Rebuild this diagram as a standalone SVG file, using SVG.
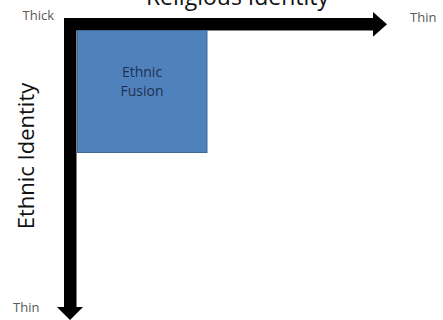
<svg xmlns="http://www.w3.org/2000/svg" width="443" height="320" viewBox="0 0 443 320">
<style>
.lbl{font-family:"Open Sans","Liberation Sans",sans-serif;fill:#595959;font-size:13px}
.axis{font-family:"Open Sans","Liberation Sans",sans-serif;fill:#111;font-size:23px}
.node{font-family:"Open Sans","Liberation Sans",sans-serif;fill:#1f3050;font-size:14px;text-anchor:middle}
</style>
<rect width="443" height="320" fill="#fff"/>
<g id="connectors">
<path d="M64,18 L373,18 L373,12 L387,24.3 L373,36.7 L373,30.5 L76.5,30.5 L76.5,307 L83,307 L70,320 L57,307 L64,307 Z" fill="#000"/>
</g>
<g id="ethnic-fusion">
<rect x="77.5" y="30.5" width="129.5" height="122" fill="#4f81bd" stroke="#41689a" stroke-width="1"/>
<text class="node" x="142" y="77">Ethnic</text>
<text class="node" x="142" y="96">Fusion</text>
</g>
<g id="labels">
<text class="axis" x="237.5" y="5" text-anchor="middle">Religious Identity</text>
<text class="axis" transform="translate(34,156) rotate(-90)" text-anchor="middle" style="font-size:22px">Ethnic Identity</text>
<text class="lbl" x="22.5" y="20">Thick</text>
<text class="lbl" x="410" y="21.5">Thin</text>
<text class="lbl" x="13" y="311.5">Thin</text>
</g>
</svg>
